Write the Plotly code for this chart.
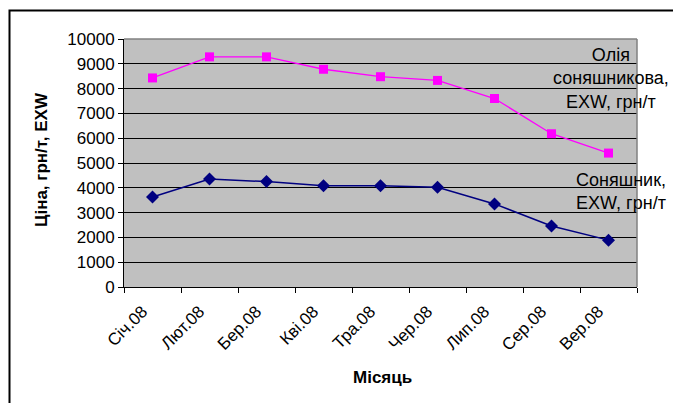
import plotly.graph_objects as go

months = ["Січ.08", "Лют.08", "Бер.08", "Кві.08", "Тра.08", "Чер.08", "Лип.08", "Сер.08", "Вер.08"]
oil = [8430, 9280, 9280, 8780, 8480, 8330, 7600, 6180, 5400]
seeds = [3630, 4350, 4250, 4080, 4080, 4020, 3350, 2460, 1890]

W, H = 673, 403
L, R, T, B = 124, 36, 39, 116
pw, ph = W - L - R, H - T - B

def px(x):
    return (x - L) / pw

def py(y):
    return (H - B - y) / ph

FONT = "Liberation Sans, Arial, sans-serif"

fig = go.Figure()
fig.add_trace(go.Scatter(
    x=months, y=oil, mode="lines+markers",
    line=dict(color="#FF00FF", width=1.3),
    marker=dict(symbol="square", size=9, color="#FF00FF"),
    name="Олія соняшникова, EXW, грн/т"))
fig.add_trace(go.Scatter(
    x=months, y=seeds, mode="lines+markers",
    line=dict(color="#000080", width=1.5),
    marker=dict(symbol="diamond", size=10, color="#000080"),
    name="Соняшник, EXW, грн/т"))

fig.update_layout(
    width=W, height=H,
    margin=dict(l=L, r=R, t=T, b=B, pad=0),
    paper_bgcolor="white", plot_bgcolor="#C0C0C0",
    showlegend=False,
    font=dict(family=FONT, size=17, color="black"),
    xaxis=dict(type="category", tickson="boundaries", ticks="outside", ticklen=5,
               tickcolor="black", showline=True, linecolor="black", linewidth=1,
               showgrid=False, tickangle=-45, tickfont=dict(size=17),
               ticklabelshift=-10, ticklabelstandoff=7,
               range=[-0.5, 8.5], fixedrange=True),
    yaxis=dict(range=[0, 10000], dtick=1000, tickformat="d", ticks="outside", ticklen=5,
               tickcolor="black", showline=True, linecolor="black", linewidth=1,
               showgrid=True, gridcolor="black", gridwidth=1, zeroline=False,
               tickfont=dict(size=17), fixedrange=True),
    shapes=[
        dict(type="line", xref="paper", yref="paper", x0=0, x1=1, y0=1, y1=1,
             line=dict(color="#808080", width=1.5)),
        dict(type="line", xref="paper", yref="paper", x0=1, x1=1, y0=0, y1=1,
             line=dict(color="#808080", width=1.5)),
        dict(type="rect", xref="paper", yref="paper",
             x0=px(9.5), x1=px(690), y0=py(420), y1=py(10.5),
             line=dict(color="black", width=2), fillcolor="rgba(0,0,0,0)"),
    ],
    annotations=[
        dict(text="Олія<br>соняшникова,<br>EXW, грн/т", xref="paper", yref="paper",
             x=px(611), y=py(78), xanchor="center", yanchor="middle", align="center",
             showarrow=False, font=dict(size=18)),
        dict(text="Соняшник,<br>EXW, грн/т", xref="paper", yref="paper",
             x=px(621), y=py(191), xanchor="center", yanchor="middle", align="center",
             showarrow=False, font=dict(size=18)),
        dict(text="<b>Ціна, грн/т, EXW</b>", xref="paper", yref="paper",
             x=px(41), y=py(160), xanchor="center", yanchor="middle", textangle=-90,
             showarrow=False, font=dict(size=17)),
        dict(text="<b>Місяць</b>", xref="paper", yref="paper",
             x=px(382), y=py(377), xanchor="center", yanchor="middle",
             showarrow=False, font=dict(size=17)),
    ],
)

fig.write_html("out.html", config={"displayModeBar": False},
               post_script="document.body.style.margin='0';document.body.style.overflow='hidden';")
